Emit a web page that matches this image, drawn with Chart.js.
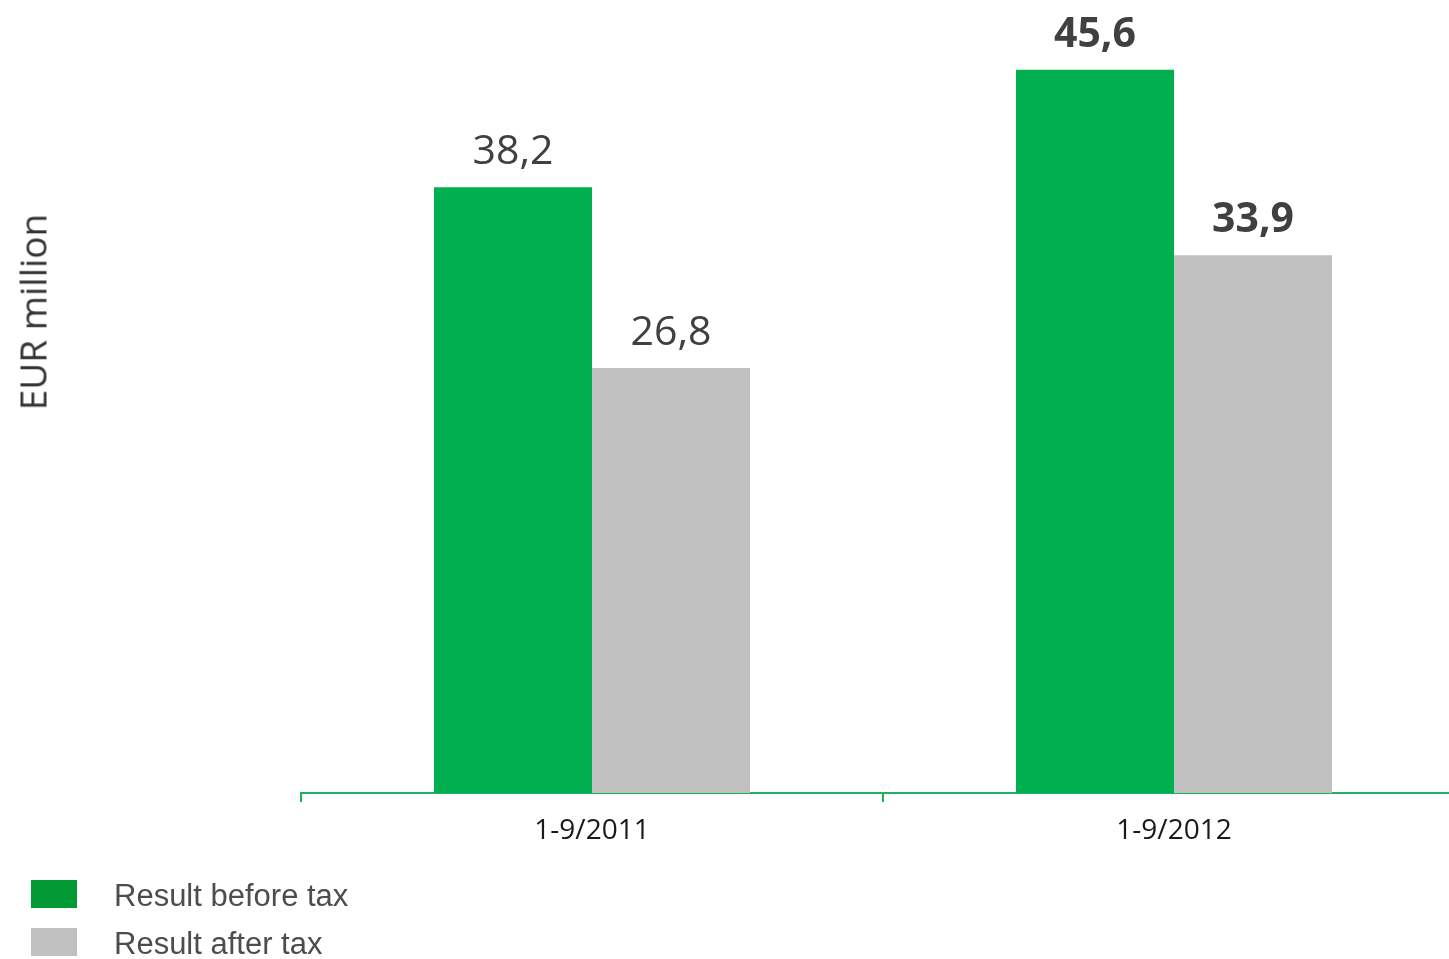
<!DOCTYPE html>
<html>
<head>
<meta charset="utf-8">
<script src="https://cdn.jsdelivr.net/npm/chart.js@4"></script>
<style>
  html, body { margin: 0; padding: 0; background: #fff; }
  #wrap { position: relative; width: 1449px; height: 959px; overflow: hidden; }
  #chartBox { position: absolute; left: 0; top: 0; width: 1470px; height: 959px; }
  #yTitle {
    position: absolute; left: 32px; top: 312px;
    transform: translate(-50%, -50%) rotate(-90deg);
    font-family: "Open Sans", sans-serif; font-size: 37px; color: #333;
    white-space: nowrap;
  }
  #legend { position: absolute; left: 31px; top: 880px; }
  .item { display: flex; align-items: center; height: 28px; margin-bottom: 20px; }
  .swatch { width: 46px; height: 28px; margin-right: 37px; }
  .item span { font-family: "Liberation Sans", Arial, sans-serif; font-size: 31px; color: #4d4d4d; line-height: 28px; position: relative; top: 2px; }
</style>
</head>
<body>
<div id="wrap">
  <div id="chartBox"><canvas id="myChart"></canvas></div>
  <div id="yTitle">EUR million</div>
  <div id="legend"></div>
</div>
<script>
// periods and results, EUR million
const periods = ["1-9/2011", "1-9/2012"];
const beforeTax = [38.2, 45.6];
const afterTax = [26.8, 33.9];
const seriesNames = ["Result before tax", "Result after tax"];

const barColors = ["#00b050", "#c0c0c0"];
const legendColors = ["#009933", "#c0c0c0"];

// value labels above the bars; the latest period is printed bold
const valueLabels = {
  id: "valueLabels",
  afterDatasetsDraw(chart) {
    const ctx = chart.ctx;
    ctx.save();
    ctx.fillStyle = "#404040";
    ctx.textAlign = "center";
    ctx.textBaseline = "alphabetic";
    chart.data.datasets.forEach((ds, di) => {
      chart.getDatasetMeta(di).data.forEach((bar, i) => {
        const weight = i === periods.length - 1 ? "bold" : "normal";
        ctx.font = weight + " 41px 'Open Sans', sans-serif";
        ctx.fillText(ds.data[i].toFixed(1).replace(".", ","), bar.x, bar.y - 23);
      });
    });
    ctx.restore();
  }
};

const data = {
  labels: periods,
  datasets: [
    { label: seriesNames[0], data: beforeTax, backgroundColor: barColors[0] },
    { label: seriesNames[1], data: afterTax, backgroundColor: barColors[1] }
  ]
};

const myChart = new Chart(document.getElementById("myChart"), {
  type: "bar",
  data: data,
  options: {
    responsive: true,
    maintainAspectRatio: false,
    animation: false,
    layout: { padding: { left: 301, right: 5, top: 0, bottom: 111 } },
    datasets: { bar: { categoryPercentage: 0.543, barPercentage: 1.0 } },
    plugins: { legend: { display: false }, tooltip: { enabled: false } },
    scales: {
      x: {
        grid: { display: true, drawOnChartArea: false, offset: true, tickLength: 9, color: "#1fb060", lineWidth: 2 },
        border: { display: true, color: "#1fb060", width: 2 },
        ticks: { color: "#1a1a1a", padding: 12, font: { family: "'Open Sans', sans-serif", size: 28 } },
        afterFit(scale) { scale.height = 55; }
      },
      y: {
        display: false,
        min: 0,
        max: 50
      }
    }
  },
  plugins: [valueLabels]
});

// legend below the chart
const legend = document.getElementById("legend");
seriesNames.forEach((name, i) => {
  const row = document.createElement("div");
  row.className = "item";
  row.innerHTML = '<div class="swatch" style="background:' + legendColors[i] + '"></div><span>' + name + '</span>';
  legend.appendChild(row);
});
</script>
</body>
</html>
